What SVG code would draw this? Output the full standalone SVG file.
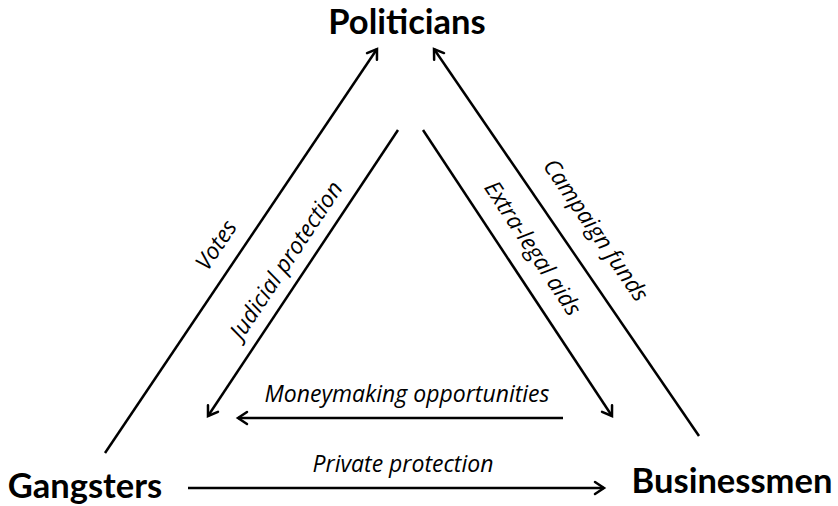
<svg xmlns="http://www.w3.org/2000/svg" width="838" height="506" viewBox="0 0 838 506">
  <defs>
    <marker id="arr" markerUnits="userSpaceOnUse" markerWidth="20" markerHeight="20" refX="0" refY="0" viewBox="-12 -10 14 20" orient="auto" overflow="visible">
      <path d="M -9,-6 L 0,0 L -9,6" fill="none" stroke="#000" stroke-width="2.5" stroke-linecap="round" stroke-linejoin="miter"/>
    </marker>
    <style>
      .node { font-family: Lato, "Open Sans", sans-serif; font-weight: bold; font-size: 34.5px; fill: #000; }
      .lbl { font-family: "Open Sans", Lato, sans-serif; font-style: italic; font-size: 23px; fill: #000; }
      .conn line { stroke: #000; stroke-width: 2.5; fill: none; }
      .arrow { marker-end: url(#arr); }
    </style>
  </defs>
  <rect width="838" height="506" fill="#fff"/>

  <g id="politicians"><text class="node" x="407" y="34" text-anchor="middle">Politicians</text></g>
  <g id="gangsters"><text class="node" x="85" y="498" text-anchor="middle">Gangsters</text></g>
  <g id="businessmen"><text class="node" x="732" y="493" text-anchor="middle">Businessmen</text></g>

  <g id="connectors" class="conn">
    <line class="arrow" x1="105" y1="453" x2="377" y2="49"/>
    <line class="arrow" x1="398" y1="130" x2="208" y2="416"/>
    <line class="arrow" x1="699" y1="436" x2="434" y2="49"/>
    <line class="arrow" x1="423" y1="130" x2="612" y2="416"/>
    <line class="arrow" x1="563" y1="418" x2="238" y2="418"/>
    <line class="arrow" x1="188" y1="488" x2="604" y2="488"/>
  </g>

  <g id="labels">
    <text class="lbl" text-anchor="middle" transform="translate(216,245) rotate(-56.1)" y="8">Votes</text>
    <text class="lbl" text-anchor="middle" transform="translate(286,260) rotate(-56.4)" y="8">Judicial protection</text>
    <text class="lbl" text-anchor="middle" transform="translate(596,230) rotate(55.6)" y="8">Campaign funds</text>
    <text class="lbl" text-anchor="middle" transform="translate(533,248) rotate(56.6)" y="8">Extra-legal aids</text>
    <text class="lbl" x="407" y="402" text-anchor="middle">Moneymaking opportunities</text>
    <text class="lbl" x="403" y="472" text-anchor="middle">Private protection</text>
  </g>
</svg>
